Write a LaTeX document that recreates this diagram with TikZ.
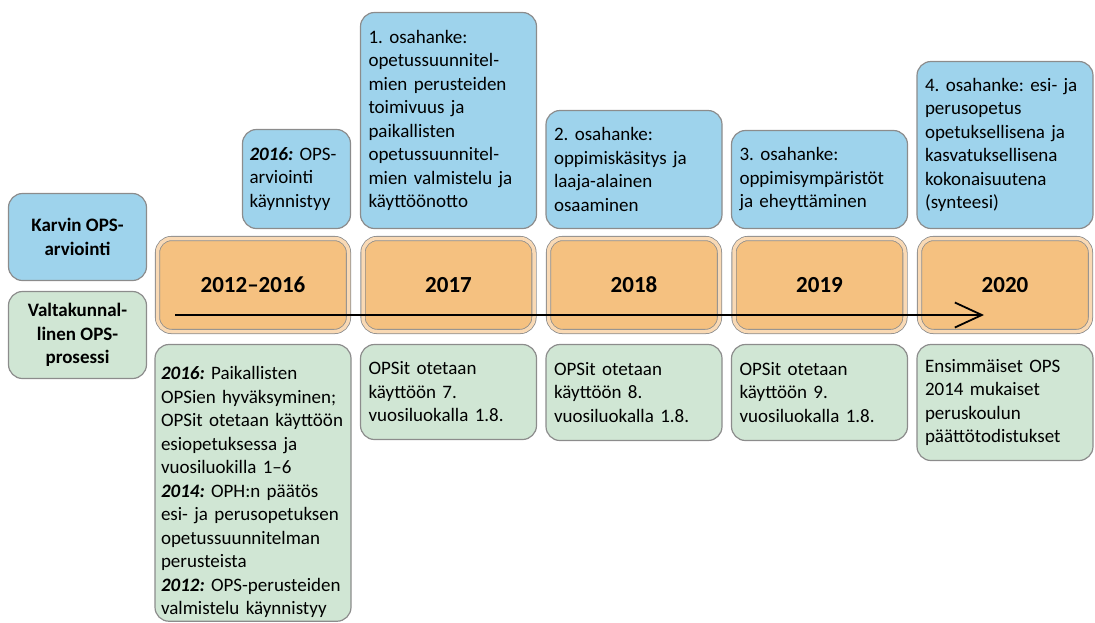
\documentclass[tikz,border=0pt]{standalone}
\usepackage{fontspec}
\setmainfont{Carlito}
\usetikzlibrary{arrows.meta,positioning}

\definecolor{boxblue}{RGB}{158,211,236}
\definecolor{boxgreen}{RGB}{208,230,212}
\definecolor{yearorange}{RGB}{245,193,128}
\definecolor{yearring}{RGB}{249,217,180}
\definecolor{boxgray}{RGB}{140,140,140}

\frenchspacing
\hyphenpenalty=10000

\begin{document}
\begin{tikzpicture}[x=1pt, y=-1pt,
                    every node/.style={draw=boxgray, line width=1.2pt, rounded corners=14pt, outer sep=0pt,
                                       inner xsep=8pt, align=left, font=\fontsize{19}{23.5}\selectfont},
                    topbox/.style={fill=boxblue},
                    botbox/.style={fill=boxgreen},
                    yearbox/.style={fill=yearorange, line width=0.8pt, double=yearring, double distance=3.5pt,
                                    minimum width=171pt, minimum height=93pt, align=center,
                                    font=\fontsize{23}{28}\selectfont\bfseries},
                    sidebox/.style={minimum width=138pt, minimum height=87pt, align=center,
                                    font=\fontsize{19}{23.5}\selectfont\bfseries},
                    timeline/.style={line width=1.8pt, -{Straight Barb[length=27pt,width=25pt]}},
                    node distance=14.5pt]

\useasboundingbox (0,0) rectangle (1095,622);

\node[yearbox, minimum width=191pt] (y1216) at (253,285) {2012–2016};
\node[yearbox, right=of y1216] (y2017) {2017};
\node[yearbox, right=of y2017] (y2018) {2018};
\node[yearbox, right=of y2018] (y2019) {2019};
\node[yearbox, right=of y2019] (y2020) {2020};

\node[sidebox, topbox] (karvi) at (77.5,237) {Karvin OPS-\\arviointi};
\node[sidebox, botbox, below=11pt of karvi] (valtak) {Valtakunnal-\\linen OPS-\\prosessi};

% Karvin arviointi
\node[topbox, text width=94pt, inner xsep=7pt, minimum height=99pt, above left=10pt and -2pt of y1216.north east] (a2016)
    {{\bfseries\itshape 2016:} OPS-\\arviointi\\käynnistyy};
\node[topbox, text width=160pt, minimum height=216pt, above=10pt of y2017] (a2017)
    {1. osahanke:\\opetussuunnitel-\\mien perusteiden\\toimivuus ja\\paikallisten\\opetussuunnitel-\\mien valmistelu ja\\käyttöönotto};
\node[topbox, text width=160pt, minimum height=118pt, above=10pt of y2018] (a2018)
    {2. osahanke:\\oppimiskäsitys ja\\laaja-alainen\\osaaminen};
\node[topbox, text width=160pt, minimum height=98pt, above=10pt of y2019] (a2019)
    {3. osahanke:\\oppimisympäristöt\\ja eheyttäminen};
\node[topbox, text width=160pt, minimum height=167pt, above=10pt of y2020] (a2020)
    {4. osahanke: esi- ja\\perusopetus\\opetuksellisena ja\\kasvatuksellisena\\kokonaisuutena\\(synteesi)};

% valtakunnallinen prosessi
\node[botbox, text width=184pt, inner xsep=6pt, minimum height=276pt, below=13pt of y1216] (o1216)
    {\rule{0pt}{32pt}{\bfseries\itshape 2016:} Paikallisten\\OPSien hyväksyminen;\\OPSit~otetaan~käyttöön\\esiopetuksessa ja\\vuosiluokilla 1–6\\
     {\bfseries\itshape 2014:} OPH:n päätös\\esi- ja perusopetuksen\\opetussuunnitelman\\perusteista\\
     {\bfseries\itshape 2012:} OPS-perusteiden\\valmistelu käynnistyy};
\node[botbox, text width=160pt, minimum height=95pt, below=13pt of y2017] (o2017)
    {OPSit otetaan\\käyttöön 7.\\vuosiluokalla 1.8.};
\node[botbox, text width=160pt, minimum height=96pt, below=13pt of y2018] (o2018)
    {OPSit otetaan\\käyttöön 8.\\vuosiluokalla 1.8.};
\node[botbox, text width=160pt, minimum height=96pt, below=13pt of y2019] (o2019)
    {OPSit otetaan\\käyttöön 9.\\vuosiluokalla 1.8.};
\node[botbox, text width=160pt, minimum height=116pt, below=13pt of y2020] (o2020)
    {Ensimmäiset OPS\\2014 mukaiset\\peruskoulun\\päättötodistukset};

\coordinate (tlstart) at (175,315);
\coordinate (tlend) at (984,315);
\draw[timeline] (tlstart) -- (tlend);

\end{tikzpicture}
\end{document}
